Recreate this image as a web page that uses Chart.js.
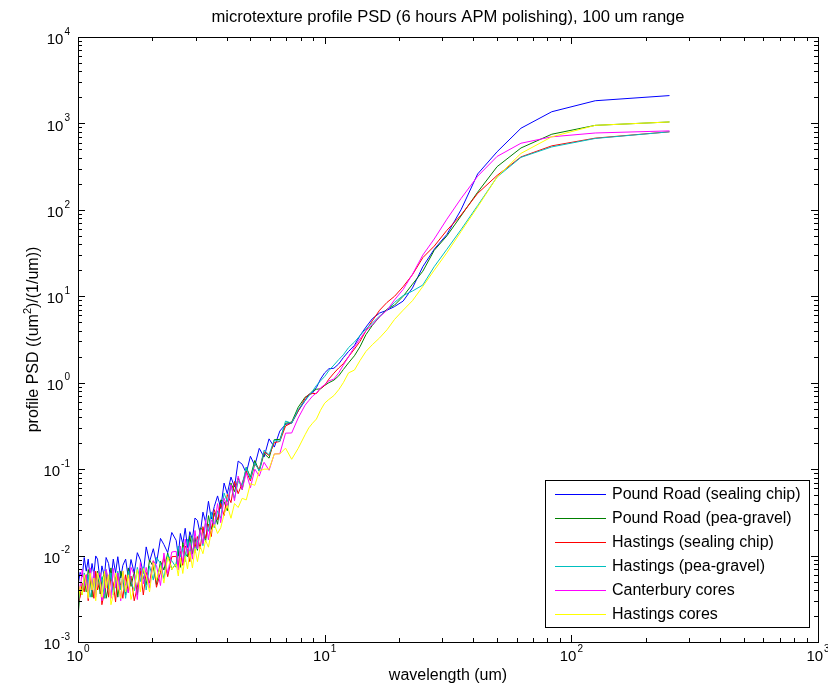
<!DOCTYPE html>
<html>
<head>
<meta charset="utf-8">
<title>microtexture profile PSD</title>
<script src="https://cdn.jsdelivr.net/npm/chart.js@4.4.1/dist/chart.umd.min.js"></script>
<style>
  html, body { margin: 0; padding: 0; background: #fff; }
  canvas { display: block; }
</style>
</head>
<body>
<canvas id="psdChart" width="828" height="686"></canvas>
<script>
// wavelength (um) shared by every series
const wavelength = [
  250, 125, 83.3, 62.5, 50, 41.7, 35.7, 31.3, 27.8, 25,
  22.7, 20.8, 19.2, 17.9, 16.7, 15.6, 14.7, 13.9, 13.2, 12.5,
  11.9, 11.4, 10.9, 10.4, 10, 9.62, 9.26, 8.93, 8.62, 8.33,
  7.81, 7.35, 6.94, 6.58, 6.25, 5.95, 5.68, 5.43, 5.21, 5,
  4.81, 4.63, 4.46, 4.31, 4.17, 4.03, 3.91, 3.79, 3.68, 3.57,
  3.47, 3.38, 3.29, 3.21, 3.13, 3.05, 2.98, 2.91, 2.84, 2.78,
  2.72, 2.66, 2.60, 2.55, 2.50,
  2.40, 2.31, 2.23, 2.16, 2.08, 2.02, 1.95, 1.89, 1.84, 1.79,
  1.74, 1.69, 1.64, 1.60, 1.56, 1.52, 1.49, 1.45, 1.42, 1.39,
  1.36, 1.33, 1.30, 1.28, 1.25, 1.23, 1.20, 1.18, 1.16, 1.14,
  1.12, 1.10, 1.08, 1.06, 1.04, 1.02, 1.00
];

const poundRoadChip = [
  2100, 1830, 1365, 880, 470, 260, 100, 52, 35, 22,
  12.5, 8.8, 7.6, 6.9, 6.4, 5.5, 4.4, 3.5, 2.7, 2.3,
  1.95, 1.65, 1.47, 1.45, 1.3, 1.1, 0.88, 0.76, 0.73, 0.62,
  0.47, 0.34, 0.33, 0.276, 0.18, 0.224, 0.138, 0.174, 0.110, 0.141,
  0.090, 0.114, 0.124, 0.062, 0.081, 0.052, 0.069, 0.035, 0.049, 0.037,
  0.0265, 0.0425, 0.0244, 0.0318, 0.0177, 0.0254, 0.0272, 0.0153, 0.0189, 0.0124,
  0.0207, 0.0136, 0.0180, 0.0099, 0.0150,
  0.0185, 0.0108, 0.0134, 0.0158, 0.0081, 0.0120, 0.0085, 0.0126, 0.0062, 0.0089,
  0.0108, 0.0063, 0.0090, 0.0055, 0.0091, 0.0077, 0.0055, 0.0097, 0.0063, 0.0091,
  0.0051, 0.0081, 0.0095, 0.0057, 0.0076, 0.0050, 0.0091, 0.0099, 0.0060, 0.0081,
  0.0055, 0.0091, 0.0066, 0.0095, 0.0057, 0.0064, 0.0045
];

const poundRoadGravel = [
  1040, 950, 750, 520, 316, 160, 85, 50, 34, 19.5,
  13.8, 10, 7.9, 7.1, 5.8, 4.6, 3.6, 2.6, 2.05, 1.7,
  1.42, 1.2, 1.07, 1.0, 0.93, 0.85, 0.84, 0.8, 0.72, 0.68,
  0.52, 0.35, 0.34, 0.22, 0.22, 0.134, 0.152, 0.095, 0.126, 0.081,
  0.105, 0.058, 0.079, 0.055, 0.069, 0.033, 0.042, 0.044, 0.023, 0.031,
  0.020, 0.029, 0.0144, 0.0198, 0.0209, 0.0115, 0.0162, 0.0104, 0.0170, 0.0097,
  0.0106, 0.0141, 0.0073, 0.0118, 0.0081,
  0.0069, 0.0107, 0.0068, 0.0086, 0.0046, 0.0074, 0.0089, 0.0046, 0.0056, 0.0072,
  0.0035, 0.0065, 0.0044, 0.0072, 0.0035, 0.0052, 0.0066, 0.0033, 0.0057, 0.0040,
  0.0072, 0.0044, 0.0032, 0.0063, 0.0052, 0.0036, 0.0066, 0.0040, 0.0060, 0.0033,
  0.0055, 0.0069, 0.0038, 0.0056, 0.0035, 0.0040, 0.0019
];

const hastingsChip = [
  800, 676, 550, 410, 250, 155, 87, 58, 38, 28,
  17.8, 12.9, 10, 8.5, 6.9, 5.2, 4.0, 3.0, 2.45, 2.0,
  1.66, 1.48, 1.29, 1.10, 0.93, 0.86, 0.75, 0.75, 0.73, 0.66,
  0.47, 0.345, 0.315, 0.209, 0.203, 0.144, 0.159, 0.100, 0.115, 0.073,
  0.095, 0.069, 0.052, 0.072, 0.041, 0.051, 0.029, 0.040, 0.026, 0.034,
  0.0166, 0.0231, 0.0158, 0.0216, 0.0120, 0.0166, 0.0123, 0.0166, 0.0085, 0.0117,
  0.0129, 0.0077, 0.0112, 0.0077, 0.0098,
  0.0097, 0.0057, 0.0096, 0.0064, 0.0043, 0.0087, 0.0048, 0.0064, 0.0035, 0.0066,
  0.0043, 0.0030, 0.0058, 0.0037, 0.0060, 0.0032, 0.0045, 0.0063, 0.0029, 0.0048,
  0.0057, 0.0033, 0.0063, 0.0038, 0.0027, 0.0052, 0.0040, 0.0066, 0.0032, 0.0045,
  0.0056, 0.0030, 0.0060, 0.0038, 0.0048, 0.0033, 0.0028
];

const hastingsGravel = [
  800, 670, 535, 405, 240, 112, 59, 35, 22, 13.5,
  11.5, 10.2, 8.5, 6.9, 5.9, 4.9, 4.2, 3.5, 2.95, 2.55,
  2.1, 1.85, 1.6, 1.38, 1.18, 1.05, 0.93, 0.80, 0.70, 0.62,
  0.49, 0.34, 0.36, 0.209, 0.218, 0.147, 0.166, 0.095, 0.118, 0.077,
  0.105, 0.066, 0.072, 0.046, 0.066, 0.042, 0.053, 0.027, 0.033, 0.021,
  0.032, 0.0191, 0.024, 0.0130, 0.0191, 0.0143, 0.0107, 0.0166, 0.0102, 0.0154,
  0.0085, 0.0123, 0.0097, 0.0129, 0.0073,
  0.0087, 0.0102, 0.0054, 0.0081, 0.0095, 0.0052, 0.0076, 0.0040, 0.0074, 0.0050,
  0.0073, 0.0039, 0.0050, 0.0066, 0.0032, 0.0060, 0.0040, 0.0066, 0.0052, 0.0035,
  0.0063, 0.0042, 0.0069, 0.0032, 0.0057, 0.0046, 0.0063, 0.0035, 0.0066, 0.0040,
  0.0033, 0.0060, 0.0044, 0.0063, 0.0036, 0.0042, 0.0025
];

const canterburyCores = [
  820, 775, 700, 590, 415, 245, 135, 78, 46, 30,
  18, 12, 9.1, 6.9, 5.8, 4.7, 4.0, 3.2, 2.6, 2.0,
  1.6, 1.3, 1.1, 1.05, 0.95, 0.87, 0.76, 0.70, 0.62, 0.55,
  0.39, 0.262, 0.261, 0.151, 0.150, 0.097, 0.120, 0.083, 0.100, 0.061,
  0.091, 0.058, 0.083, 0.043, 0.066, 0.036, 0.046, 0.024, 0.040, 0.022,
  0.026, 0.0152, 0.026, 0.0137, 0.0199, 0.0119, 0.0195, 0.0091, 0.0141, 0.0106,
  0.0155, 0.0081, 0.0129, 0.0068, 0.0112,
  0.0110, 0.0062, 0.0107, 0.0045, 0.0077, 0.0087, 0.0042, 0.0073, 0.0047, 0.0083,
  0.0031, 0.0060, 0.0073, 0.0037, 0.0045, 0.0066, 0.0030, 0.0063, 0.0042, 0.0071,
  0.0032, 0.0052, 0.0069, 0.0038, 0.0030, 0.0063, 0.0056, 0.0033, 0.0066, 0.0040,
  0.0072, 0.0032, 0.0060, 0.0045, 0.0069, 0.0038, 0.0052
];

const hastingsCores = [
  1040, 950, 700, 450, 240, 108, 56, 32, 20, 13,
  8.9, 6.9, 5.4, 4.1, 3.3, 2.75, 2.3, 1.8, 1.4, 1.3,
  1.0, 0.83, 0.71, 0.64, 0.58, 0.48, 0.38, 0.34, 0.30, 0.25,
  0.174, 0.13, 0.175, 0.15, 0.15, 0.10, 0.10, 0.095, 0.065, 0.068,
  0.044, 0.046, 0.036, 0.040, 0.027, 0.038, 0.030, 0.021, 0.018, 0.023,
  0.019, 0.0125, 0.0150, 0.0105, 0.0128, 0.0085, 0.0120, 0.0072, 0.0112, 0.0070,
  0.0098, 0.0062, 0.0094, 0.0058, 0.0080,
  0.0069, 0.0097, 0.0048, 0.0076, 0.0052, 0.0083, 0.0038, 0.0058, 0.0071, 0.0038,
  0.0069, 0.0043, 0.0031, 0.0060, 0.0038, 0.0066, 0.0032, 0.0046, 0.0063, 0.0035,
  0.0027, 0.0060, 0.0042, 0.0066, 0.0033, 0.0048, 0.0063, 0.0030, 0.0055, 0.0040,
  0.0063, 0.0032, 0.0046, 0.0060, 0.0035, 0.0044, 0.0028
];

const seriesNames = [
  'Pound Road (sealing chip)',
  'Pound Road (pea-gravel)',
  'Hastings (sealing chip)',
  'Hastings (pea-gravel)',
  'Canterbury cores',
  'Hastings cores'
];
const seriesValues = [poundRoadChip, poundRoadGravel, hastingsChip, hastingsGravel, canterburyCores, hastingsCores];
const seriesColors = ['#0000ff', '#008000', '#ff0000', '#00bfbf', '#ff00ff', '#ffff00'];

// tick labels are powers of ten
const xTickValues = [1, 10, 100, 1000];
const xTickExponents = ['0', '1', '2', '3'];
const yTickValues = [1e-3, 1e-2, 1e-1, 1, 10, 100, 1000, 10000];
const yTickExponents = ['-3', '-2', '-1', '0', '1', '2', '3', '4'];

const chartTitle = 'microtexture profile PSD (6 hours APM polishing), 100 um range';
const xAxisTitle = 'wavelength (um)';

const FONT = '"Liberation Sans", Arial, Helvetica, sans-serif';

// "10" with a raised exponent
function drawPower(ctx, exp, x, y, align) {
  ctx.font = '15px ' + FONT;
  const wBase = ctx.measureText('10').width;
  ctx.font = '10px ' + FONT;
  const wExp = ctx.measureText(exp).width;
  const total = wBase + wExp + 1;
  let start = align === 'center' ? x - total / 2 : x - total;
  ctx.textAlign = 'left';
  ctx.textBaseline = 'middle';
  ctx.font = '15px ' + FONT;
  ctx.fillText('10', start, y);
  ctx.font = '10px ' + FONT;
  ctx.fillText(exp, start + wBase + 1, y - 8);
}

const matlabAxes = {
  id: 'matlabAxes',
  afterDraw(chart) {
    const ctx = chart.ctx;
    const a = chart.chartArea;
    const xs = chart.scales.x;
    const ys = chart.scales.y;
    ctx.save();
    ctx.strokeStyle = '#000';
    ctx.fillStyle = '#000';
    ctx.lineWidth = 1;

    // box
    ctx.strokeRect(Math.round(a.left) + 0.5, Math.round(a.top) + 0.5,
      Math.round(a.right - a.left), Math.round(a.bottom - a.top));

    // ticks, pointing inwards on all four sides
    ctx.beginPath();
    for (let d = 1; d <= 1000; d *= 10) {
      for (let m = 1; m <= 9; m++) {
        const v = d * m;
        if (v > 1000) break;
        const px = Math.round(xs.getPixelForValue(v)) + 0.5;
        const len = m === 1 ? 7 : 4;
        ctx.moveTo(px, a.bottom); ctx.lineTo(px, a.bottom - len);
        ctx.moveTo(px, a.top); ctx.lineTo(px, a.top + len);
      }
    }
    for (let e = -3; e <= 4; e++) {
      const d = Math.pow(10, e);
      for (let m = 1; m <= 9; m++) {
        const v = d * m;
        if (v > 10000 * 1.0001) break;
        const py = Math.round(ys.getPixelForValue(v)) + 0.5;
        const len = m === 1 ? 7 : 4;
        ctx.moveTo(a.left, py); ctx.lineTo(a.left + len, py);
        ctx.moveTo(a.right, py); ctx.lineTo(a.right - len, py);
      }
    }
    ctx.stroke();

    // tick labels
    xTickValues.forEach((v, i) => {
      drawPower(ctx, xTickExponents[i], xs.getPixelForValue(v), a.bottom + 15, 'center');
    });
    yTickValues.forEach((v, i) => {
      drawPower(ctx, yTickExponents[i], a.left - 8, ys.getPixelForValue(v) + 3, 'right');
    });

    // title and axis titles
    const midX = (a.left + a.right) / 2;
    ctx.textAlign = 'center';
    ctx.textBaseline = 'middle';
    ctx.font = '16.6px ' + FONT;
    ctx.fillText(chartTitle, midX, 17);
    ctx.font = '16px ' + FONT;
    ctx.fillText(xAxisTitle, midX, 676);

    // y title with superscript 2
    const parts = ['profile PSD ((um', '2', ')/(1/um))'];
    ctx.font = '16px ' + FONT;
    const w0 = ctx.measureText(parts[0]).width;
    const w2 = ctx.measureText(parts[2]).width;
    ctx.font = '11px ' + FONT;
    const w1 = ctx.measureText(parts[1]).width;
    ctx.save();
    ctx.translate(34, (a.top + a.bottom) / 2);
    ctx.rotate(-Math.PI / 2);
    ctx.textAlign = 'left';
    let s = -(w0 + w1 + w2) / 2;
    ctx.font = '16px ' + FONT;
    ctx.fillText(parts[0], s, 0);
    ctx.font = '11px ' + FONT;
    ctx.fillText(parts[1], s + w0, -6);
    ctx.font = '16px ' + FONT;
    ctx.fillText(parts[2], s + w0 + w1, 0);
    ctx.restore();

    // legend box in lower right corner
    const boxR = Math.round(a.right) - 9;
    const boxB = Math.round(a.bottom) - 15;
    const boxW = 264, boxH = 147;
    const bx = boxR - boxW, by = boxB - boxH;
    ctx.fillStyle = '#fff';
    ctx.fillRect(bx, by, boxW, boxH);
    ctx.strokeStyle = '#000';
    ctx.strokeRect(bx + 0.5, by + 0.5, boxW, boxH);
    ctx.font = '16px ' + FONT;
    ctx.textAlign = 'left';
    ctx.textBaseline = 'middle';
    chart.data.datasets.forEach((ds, i) => {
      const ry = by + 14 + i * 24;
      ctx.strokeStyle = ds.borderColor;
      ctx.beginPath();
      ctx.moveTo(bx + 10, Math.round(ry) + 0.5);
      ctx.lineTo(bx + 61, Math.round(ry) + 0.5);
      ctx.stroke();
      ctx.fillStyle = '#000';
      ctx.fillText(ds.label, bx + 67, ry + 1);
    });
    ctx.restore();
  }
};

const datasets = seriesValues.map((vals, i) => ({
  label: seriesNames[i],
  data: wavelength.map((w, j) => ({ x: w, y: vals[j] })),
  borderColor: seriesColors[i],
  borderWidth: 1,
  pointRadius: 0,
  fill: false,
  tension: 0,
  order: seriesValues.length - i
}));

new Chart(document.getElementById('psdChart'), {
  type: 'line',
  data: { datasets: datasets },
  options: {
    responsive: false,
    animation: false,
    devicePixelRatio: 1,
    layout: { padding: { left: 78, right: 10, top: 37, bottom: 44 } },
    plugins: {
      legend: { display: false },
      title: { display: false },
      tooltip: { enabled: false }
    },
    scales: {
      x: { type: 'logarithmic', min: 1, max: 1000, display: false },
      y: { type: 'logarithmic', min: 1e-3, max: 1e4, display: false }
    }
  },
  plugins: [matlabAxes]
});
</script>
</body>
</html>
